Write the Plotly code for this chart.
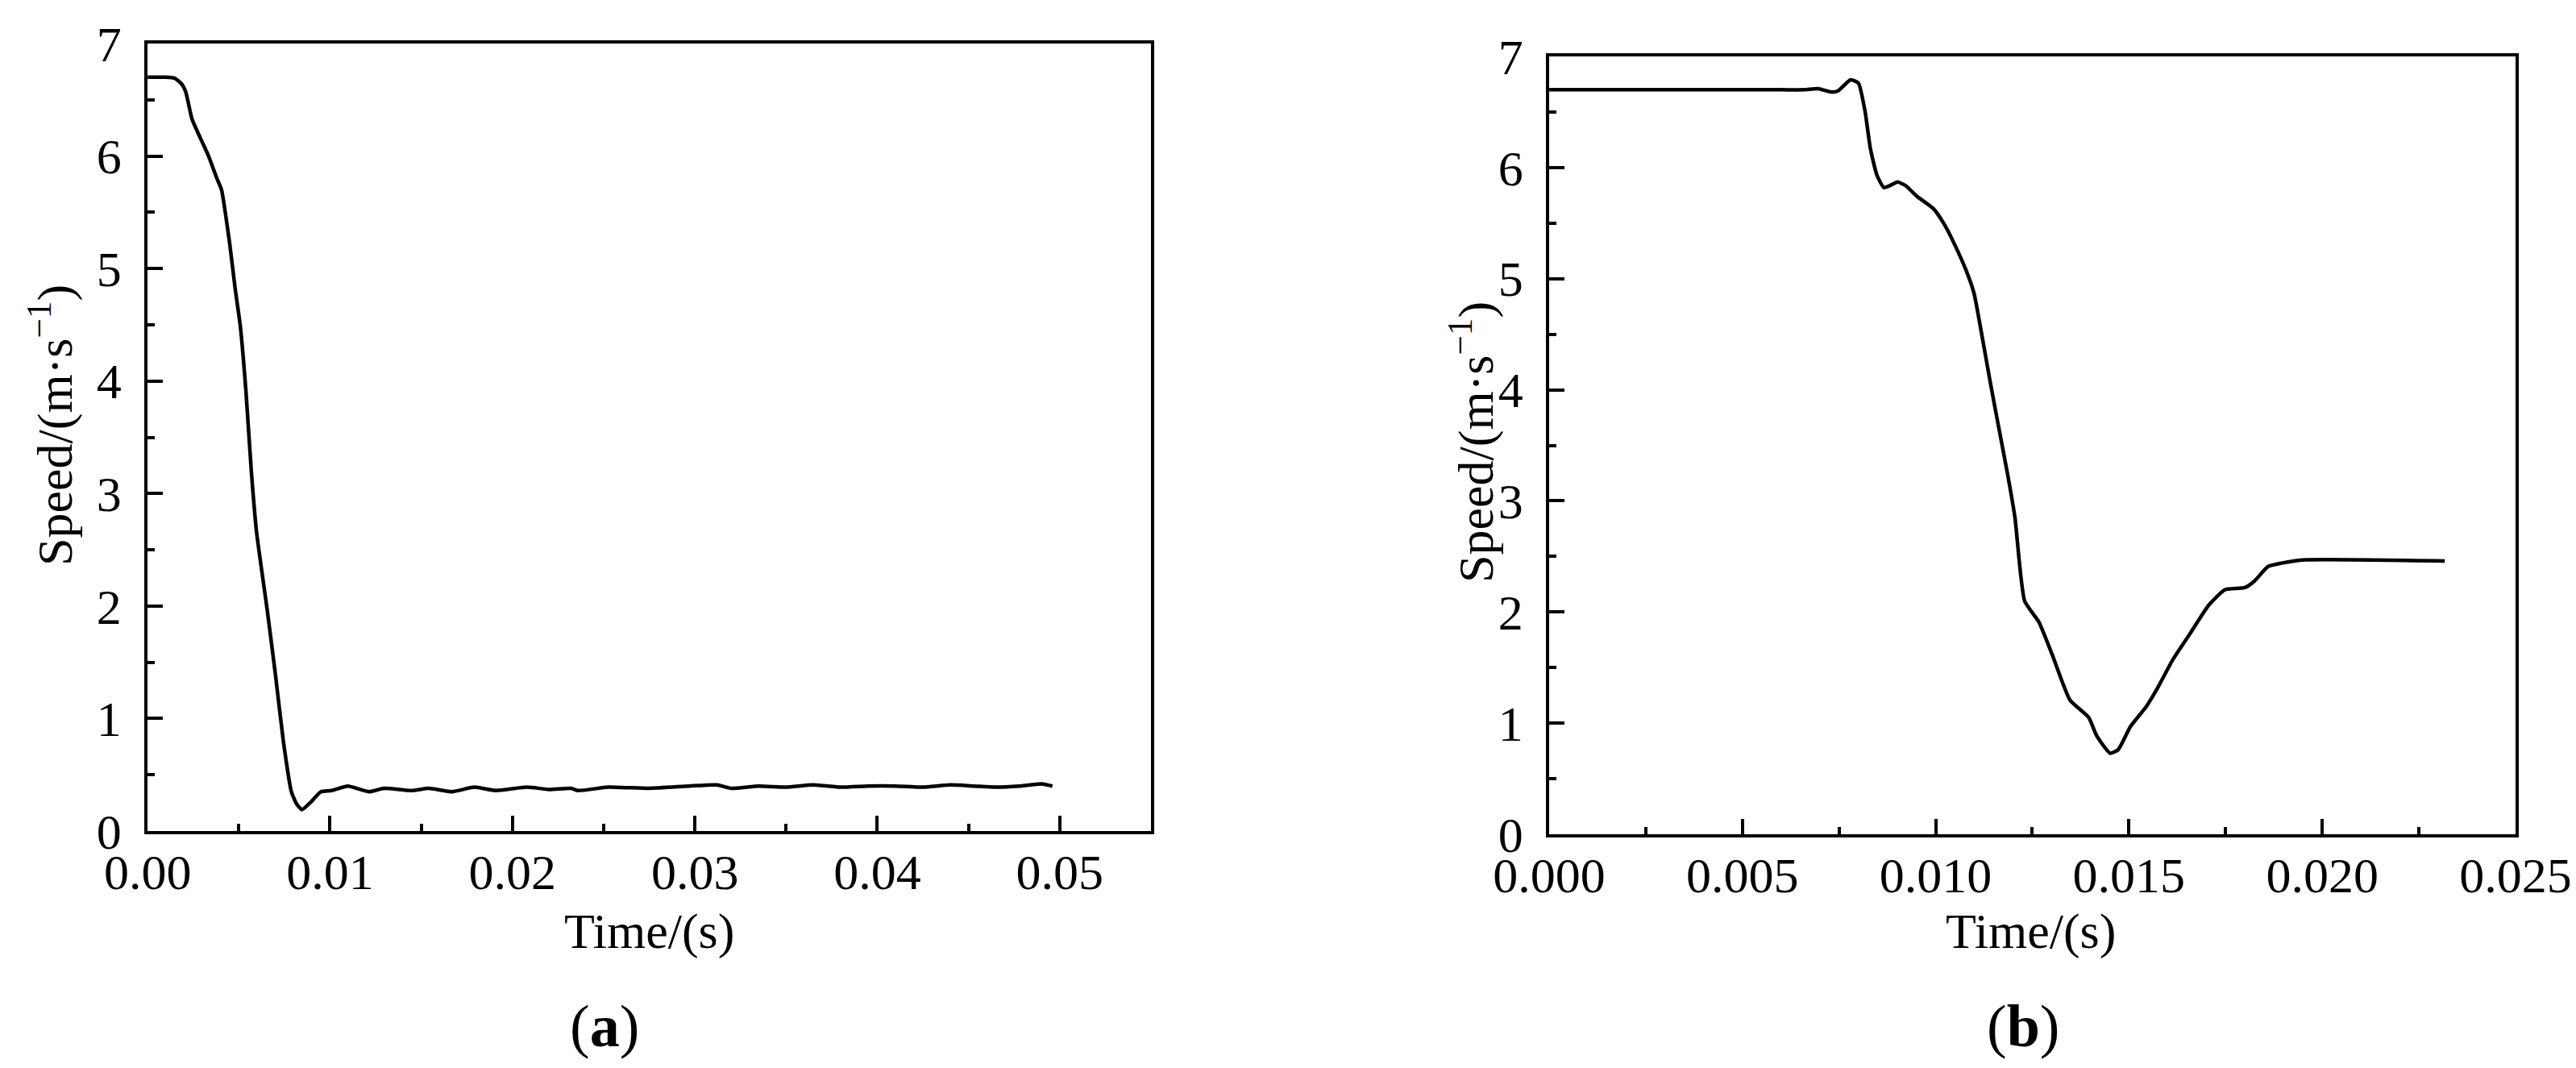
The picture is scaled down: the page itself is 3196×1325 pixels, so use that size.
import plotly.graph_objects as go
from plotly.subplots import make_subplots

# (a) speed vs time, whole run
time_a = [0.0, 0.0010, 0.0015, 0.00187, 0.00209, 0.00243, 0.00275, 0.00334, 0.0038, 0.00405,
          0.0045, 0.0048, 0.00508, 0.00539, 0.00568, 0.00597, 0.00656, 0.0070, 0.00744, 0.00788,
          0.00817, 0.00846, 0.0089, 0.0095, 0.01008, 0.01097, 0.01215, 0.01296, 0.0145, 0.0154,
          0.0167, 0.0179, 0.0191, 0.0208, 0.0220, 0.0232, 0.0236, 0.02525, 0.0275, 0.0297,
          0.0312, 0.0320, 0.0335, 0.0350, 0.0365, 0.0380, 0.0395, 0.0410, 0.0425, 0.0440,
          0.0453, 0.0465, 0.0478, 0.0490, 0.0496]
speed_a = [6.70, 6.70, 6.69, 6.64, 6.57, 6.33, 6.21, 6.00, 5.80, 5.70,
           5.22, 4.82, 4.49, 3.91, 3.21, 2.66, 1.96, 1.40, 0.80, 0.35,
           0.24, 0.19, 0.25, 0.35, 0.36, 0.40, 0.35, 0.38, 0.36, 0.38,
           0.35, 0.39, 0.36, 0.39, 0.37, 0.38, 0.36, 0.39, 0.38, 0.40,
           0.41, 0.38, 0.40, 0.39, 0.41, 0.39, 0.40, 0.40, 0.39, 0.41,
           0.40, 0.39, 0.40, 0.42, 0.40]

# (b) speed vs time, short run
time_b = [0.0, 0.0060, 0.0066, 0.00695, 0.0073, 0.00747, 0.0078, 0.0080, 0.00817, 0.00831,
          0.00848, 0.00866, 0.00883, 0.00901, 0.00921, 0.00952, 0.00994, 0.01022, 0.0105, 0.01078,
          0.01099, 0.0112, 0.01141, 0.01162, 0.01186, 0.01205, 0.0123, 0.01267, 0.01301, 0.01347,
          0.01396, 0.01416, 0.01451, 0.01472, 0.01504, 0.01545, 0.01573, 0.01615, 0.01657, 0.01706,
          0.01748, 0.0180, 0.01825, 0.0186, 0.01894, 0.01957, 0.02317]
speed_b = [6.70, 6.70, 6.70, 6.71, 6.68, 6.69, 6.79, 6.76, 6.51, 6.17,
           5.93, 5.82, 5.84, 5.87, 5.84, 5.74, 5.63, 5.49, 5.30, 5.08,
           4.87, 4.48, 4.07, 3.68, 3.24, 2.85, 2.10, 1.91, 1.62, 1.21,
           1.05, 0.89, 0.73, 0.76, 0.97, 1.15, 1.31, 1.58, 1.80, 2.06,
           2.20, 2.22, 2.28, 2.41, 2.44, 2.47, 2.46]

y_title = "Speed/(m·s<sup>−1</sup>)"
x_title = "Time/(s)"
FONT = "Liberation Serif"

fig = make_subplots(rows=1, cols=2)
fig.add_trace(go.Scatter(x=time_a, y=speed_a, mode="lines",
                         line=dict(color="black", width=4.5, shape="spline", smoothing=0.5)), 1, 1)
fig.add_trace(go.Scatter(x=time_b, y=speed_b, mode="lines",
                         line=dict(color="black", width=4.5, shape="spline", smoothing=0.5)), 1, 2)

axis_common = dict(
    automargin=False,
    showline=True, linecolor="black", linewidth=4, mirror=True,
    showgrid=False, zeroline=False,
    ticks="inside", ticklen=19, tickwidth=3.5, tickcolor="black",
    tickfont=dict(family=FONT, size=62, color="black"),
)
minor_common = dict(ticks="inside", ticklen=9, tickwidth=3.5, tickcolor="black")

fig.update_xaxes(axis_common, row=1, col=1, range=[0, 0.055], dtick=0.01, tick0=0,
                 tickformat=".2f", domain=[0.0548, 0.4443], ticklabelstandoff=-6,
                 minor=dict(minor_common, dtick=0.005))
fig.update_xaxes(axis_common, row=1, col=2, range=[0, 0.025], dtick=0.005, tick0=0,
                 tickformat=".3f", domain=[0.5989, 0.9740], ticklabelstandoff=-6,
                 minor=dict(minor_common, dtick=0.0025))
fig.update_yaxes(axis_common, row=1, col=1, range=[0, 7], dtick=1, domain=[0.2279, 0.9653],
                 ticklabelstandoff=16, minor=dict(minor_common, dtick=0.5))
fig.update_yaxes(axis_common, row=1, col=2, range=[0, 7], dtick=1, domain=[0.2249, 0.9532],
                 ticklabelstandoff=16, minor=dict(minor_common, dtick=0.5))

W, H = 3196, 1325
labels = [
    dict(text=y_title, x=55, y=520, textangle=-90),
    dict(text=y_title, x=1818, y=540, textangle=-90),
    dict(text=x_title, x=797, y=1147, textangle=0),
    dict(text=x_title, x=2511, y=1147, textangle=0),
    dict(text="(<b>a</b>)", x=742, y=1265, textangle=0, size=74),
    dict(text="(<b>b</b>)", x=2502, y=1265, textangle=0, size=74),
]
for lab in labels:
    fig.add_annotation(text=lab["text"], x=lab["x"] / W, y=1 - lab["y"] / H,
                       xref="paper", yref="paper", xanchor="center", yanchor="middle",
                       textangle=lab["textangle"], showarrow=False,
                       font=dict(family=FONT, size=lab.get("size", 62), color="black"))

fig.update_layout(
    width=W, height=H,
    margin=dict(l=0, r=0, t=0, b=0),
    plot_bgcolor="white", paper_bgcolor="white",
    showlegend=False,
    font=dict(family=FONT, color="black"),
)

fig.write_html("out.html")
